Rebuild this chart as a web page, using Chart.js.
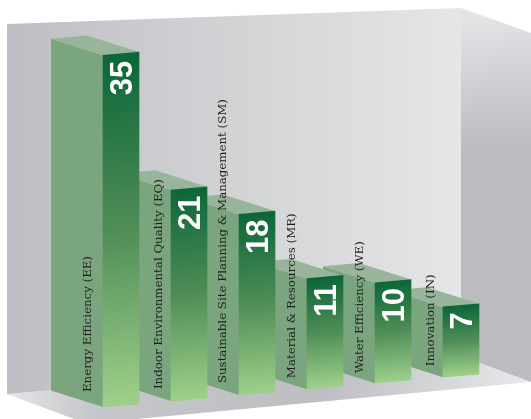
<!DOCTYPE html>
<html>
<head>
<meta charset="utf-8">
<title>LEED credit categories</title>
<script src="https://cdn.jsdelivr.net/npm/chart.js@4"></script>
<style>
    html, body { margin: 0; padding: 0; background: #fff; }
    canvas { display: block; }
</style>
</head>
<body>
<canvas id="grafico" width="531" height="419"></canvas>
<script>
const categorias = [
    'Energy Efficiency (EE)',
    'Indoor Environmental Quality (EQ)',
    'Sustainable Site Planning & Management (SM)',
    'Material & Resources (MR)',
    'Water Efficiency (WE)',
    'Innovation (IN)'
];
const valores = [35, 21, 18, 11, 10, 7];

// The whole row of bars leans upward to the right
const inclinacion = -0.0875;
const origenX = 103;
// Depth of each block, from the front face back to the wall
const fondoX = -52;
const fondoY = -16.5;
// Where each category name sits on its block, measured from the bar
const nombreDx = [-30, -27, -31, -30, -30, -27];
const nombreDy = [15, 12, 12, 11, 10, 11];

function inclinar(x, y) {
    return [x, y + inclinacion * (x - origenX)];
}

function poligono(ctx, puntos, relleno) {
    ctx.beginPath();
    puntos.forEach((p, i) => i ? ctx.lineTo(p[0], p[1]) : ctx.moveTo(p[0], p[1]));
    ctx.closePath();
    ctx.fillStyle = relleno;
    ctx.fill();
}

// Back wall, right wall and floor of the room
const habitacion = {
    id: 'habitacion',
    beforeDraw(chart) {
        const ctx = chart.ctx;

        const suelo = ctx.createLinearGradient(7, 0, 531, 0);
        suelo.addColorStop(0, '#e4e5e6');
        suelo.addColorStop(0.16, '#c6c7ca');
        suelo.addColorStop(0.6, '#bdbec2');
        suelo.addColorStop(1, '#e8e9ea');
        poligono(ctx, [[7, 394], [461, 356], [531, 382], [137, 419], [74, 419]], suelo);

        const fondo = ctx.createLinearGradient(7, 0, 461, 0);
        fondo.addColorStop(0, '#bdbec3');
        fondo.addColorStop(0.2, '#c6c7ca');
        fondo.addColorStop(0.57, '#d5d6d8');
        fondo.addColorStop(1, '#e5e6e8');
        poligono(ctx, [[7, 24], [461, 8], [461, 356], [7, 394]], fondo);

        const lateral = ctx.createLinearGradient(480, 15, 492, 150);
        lateral.addColorStop(0, '#e3e4e6');
        lateral.addColorStop(1, '#bbbcc0');
        poligono(ctx, [[461, 8], [531, 33], [531, 382], [461, 356]], lateral);
    }
};

// Draws the blocks from right to left so the nearer ones cover the others
const bloques = {
    id: 'bloques',
    beforeDatasetsDraw(chart) {
        const ctx = chart.ctx;
        const barras = chart.getDatasetMeta(0).data;

        for (let i = barras.length - 1; i >= 0; i--) {
            const b = barras[i];
            const izq = b.x - b.width / 2;
            const der = b.x + b.width / 2;
            const arribaIzq = inclinar(izq, b.y);
            const arribaDer = inclinar(der, b.y);
            const abajoIzq = inclinar(izq, b.base);
            const atras = p => [p[0] + fondoX, p[1] + fondoY];

            poligono(ctx, [arribaIzq, abajoIzq, atras(abajoIzq), atras(arribaIzq)], '#7ba57e');
            poligono(ctx, [arribaIzq, arribaDer, atras(arribaDer), atras(arribaIzq)], '#98b49b');

            ctx.save();
            ctx.transform(1, inclinacion, 0, 1, 0, -inclinacion * origenX);
            b.draw(ctx);
            ctx.restore();
        }
        return false;
    },
    afterDraw(chart) {
        const ctx = chart.ctx;
        chart.getDatasetMeta(0).data.forEach((b, i) => {
            const centro = inclinar(b.x, b.y);
            const base = inclinar(b.x - b.width / 2, b.base);

            // Value at the top of the front face
            ctx.save();
            ctx.translate(b.x + 11, centro[1] + 7);
            ctx.rotate(-Math.PI / 2);
            ctx.font = 'bold 31px "Liberation Sans"';
            ctx.fillStyle = '#fff';
            ctx.textAlign = 'right';
            ctx.textBaseline = 'alphabetic';
            ctx.fillText(valores[i], 0, 0);
            ctx.restore();

            // Category name on the side of the block
            ctx.save();
            ctx.translate(b.x + nombreDx[i], base[1] - nombreDy[i]);
            ctx.rotate(-Math.PI / 2);
            ctx.font = '11.8px "DejaVu Serif"';
            ctx.fillStyle = '#1f1f1f';
            ctx.textAlign = 'left';
            ctx.textBaseline = 'alphabetic';
            ctx.fillText(categorias[i], 0, 0);
            ctx.restore();
        });
    }
};

const ctx = document.getElementById('grafico').getContext('2d');

new Chart(ctx, {
    type: 'bar',
    data: {
        labels: categorias,
        datasets: [{
            data: valores,
            barThickness: 36,
            borderWidth: 0,
            backgroundColor: function(context) {
                const { chart, dataIndex } = context;
                const y = chart.scales.y;
                const arriba = y ? y.getPixelForValue(valores[dataIndex]) : NaN;
                const abajo = y ? y.getPixelForValue(0) : NaN;
                if (!Number.isFinite(arriba) || !Number.isFinite(abajo)) return '#0c6639';
                const g = chart.ctx.createLinearGradient(0, arriba, 0, abajo);
                g.addColorStop(0, '#0c6639');
                g.addColorStop(0.5, '#4f8d57');
                g.addColorStop(1, '#9ed08a');
                return g;
            }
        }]
    },
    options: {
        responsive: false,
        animation: false,
        layout: { padding: { left: 87, right: 36, top: 5, bottom: 12 } },
        plugins: {
            legend: { display: false },
            title: { display: false },
            tooltip: { enabled: false }
        },
        scales: {
            x: { display: false },
            y: { display: false, min: 0, max: 40 }
        }
    },
    plugins: [habitacion, bloques]
});
</script>
</body>
</html>
